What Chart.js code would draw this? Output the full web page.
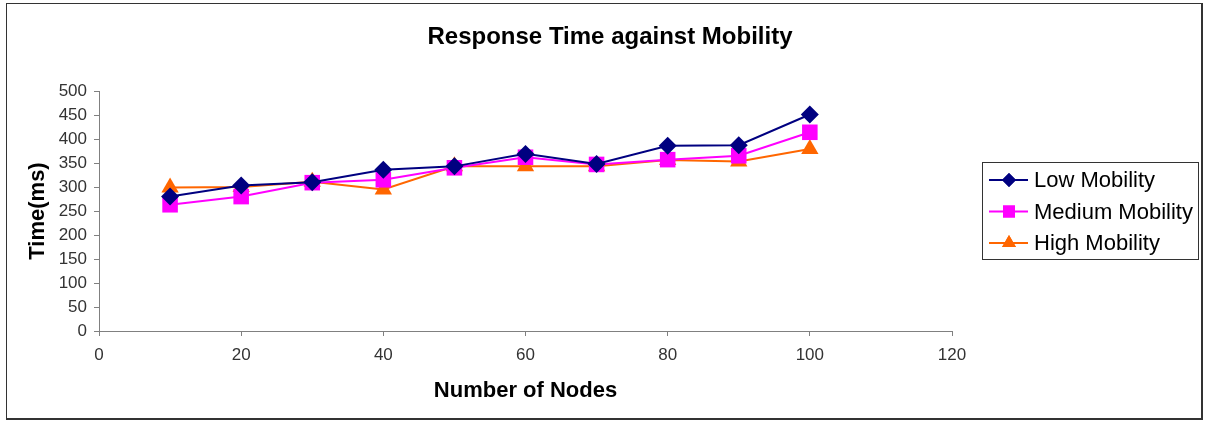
<!DOCTYPE html>
<html>
<head>
<meta charset="utf-8">
<script src="https://cdn.jsdelivr.net/npm/chart.js@4.4.0/dist/chart.umd.min.js"></script>
<style>
  html, body { margin: 0; padding: 0; background: #fff; }
  #wrap { position: relative; width: 1207px; height: 421px; }
  #frame { position: absolute; left: 6px; top: 3px; width: 1194px; height: 414px;
           border: 1px solid #333; border-right-width: 2px; border-bottom-width: 2px; pointer-events: none; }
</style>
</head>
<body>
<div id="wrap">
  <canvas id="myChart" width="1207" height="421"></canvas>
  <div id="frame"></div>
</div>
<script>
  // Datos del gráfico
  var nodes = [10, 20, 30, 40, 50, 60, 70, 80, 90, 100];
  var lowMobility = [280, 303, 310, 336, 343, 369, 348, 386, 387, 451];
  var mediumMobility = [263, 280, 309, 315, 340, 362, 347, 357, 365, 414];
  var highMobility = [299, 300, 311, 295, 343, 343, 343, 356, 353, 379];
  var seriesNames = ['Low Mobility', 'Medium Mobility', 'High Mobility'];
  var chartTitle = 'Response Time against Mobility';

  var FONT = "'Liberation Sans', Arial, sans-serif";

  function toPoints(vals) {
    return nodes.map(function (n, i) { return { x: n, y: vals[i] }; });
  }

  var styles = [
    { color: '#000080', shape: 'rectRot', radius: 9, legendRadius: 7 },
    { color: '#FF00FF', shape: 'rect', radius: 11, legendRadius: 8.5 },
    { color: '#FF6600', shape: 'triangle', radius: 10, legendRadius: 8 }
  ];

  var chartData = {
    datasets: [lowMobility, mediumMobility, highMobility].map(function (vals, i) {
      return {
        label: seriesNames[i],
        data: toPoints(vals),
        showLine: true,
        borderColor: styles[i].color,
        backgroundColor: styles[i].color,
        borderWidth: 2,
        pointStyle: styles[i].shape,
        pointRadius: styles[i].radius,
        pointHoverRadius: styles[i].radius,
        pointBorderWidth: 0
      };
    })
  };

  // Título centrado en todo el lienzo y leyenda con recuadro
  var boxLegend = {
    id: 'boxLegend',
    afterDraw: function (chart) {
      var ctx = chart.ctx;
      ctx.save();
      ctx.fillStyle = '#000';
      ctx.font = 'bold 24px ' + FONT;
      ctx.textAlign = 'center';
      ctx.textBaseline = 'middle';
      ctx.fillText(chartTitle, 610, 37);

      var x0 = 982, y0 = 162, w = 216, h = 97;
      ctx.strokeStyle = '#333';
      ctx.lineWidth = 1;
      ctx.strokeRect(x0 + 0.5, y0 + 0.5, w, h);
      ctx.font = '22px ' + FONT;
      ctx.textAlign = 'left';
      chart.data.datasets.forEach(function (ds, i) {
        var y = y0 + 18 + i * 31.5;
        ctx.strokeStyle = ds.borderColor;
        ctx.lineWidth = 2;
        ctx.beginPath();
        ctx.moveTo(x0 + 7, y);
        ctx.lineTo(x0 + 46, y);
        ctx.stroke();
        ctx.fillStyle = ds.borderColor;
        Chart.helpers.drawPoint(ctx, {
          pointStyle: ds.pointStyle, radius: styles[i].legendRadius, borderWidth: 0
        }, x0 + 27, y);
        ctx.fill();
        ctx.fillStyle = '#000';
        ctx.fillText(ds.label, x0 + 52, y + 1);
      });
      ctx.restore();
    }
  };

  var config = {
    type: 'scatter',
    data: chartData,
    options: {
      responsive: false,
      animation: false,
      layout: { padding: { left: 10, top: 91, right: 255, bottom: 8 } },
      plugins: {
        legend: { display: false },
        tooltip: { enabled: false },
        title: { display: false }
      },
      scales: {
        x: {
          type: 'linear',
          min: 0, max: 120,
          afterFit: function (scale) { scale.height = 82; },
          border: { color: '#808080', width: 1 },
          grid: { drawOnChartArea: false, drawTicks: true, tickLength: 5, color: '#808080' },
          ticks: { stepSize: 20, color: '#333', padding: 9, font: { family: FONT, size: 17 } },
          title: {
            display: true, text: 'Number of Nodes', color: '#000',
            font: { family: FONT, size: 22, weight: 'bold', lineHeight: 1.2 },
            padding: { top: 0, bottom: 9 }
          }
        },
        y: {
          min: 0, max: 500,
          afterFit: function (scale) { scale.width = 89; },
          border: { color: '#808080', width: 1 },
          grid: { drawOnChartArea: false, drawTicks: true, tickLength: 5, color: '#808080' },
          ticks: { stepSize: 50, color: '#333', padding: 7, font: { family: FONT, size: 17 } },
          title: {
            display: true, text: 'Time(ms)', color: '#000',
            font: { family: FONT, size: 22, weight: 'bold', lineHeight: 1.2 },
            padding: { top: 15, bottom: 0 }
          }
        }
      }
    },
    plugins: [boxLegend]
  };

  var ctx = document.getElementById('myChart').getContext('2d');
  var myChart = new Chart(ctx, config);
</script>
</body>
</html>
